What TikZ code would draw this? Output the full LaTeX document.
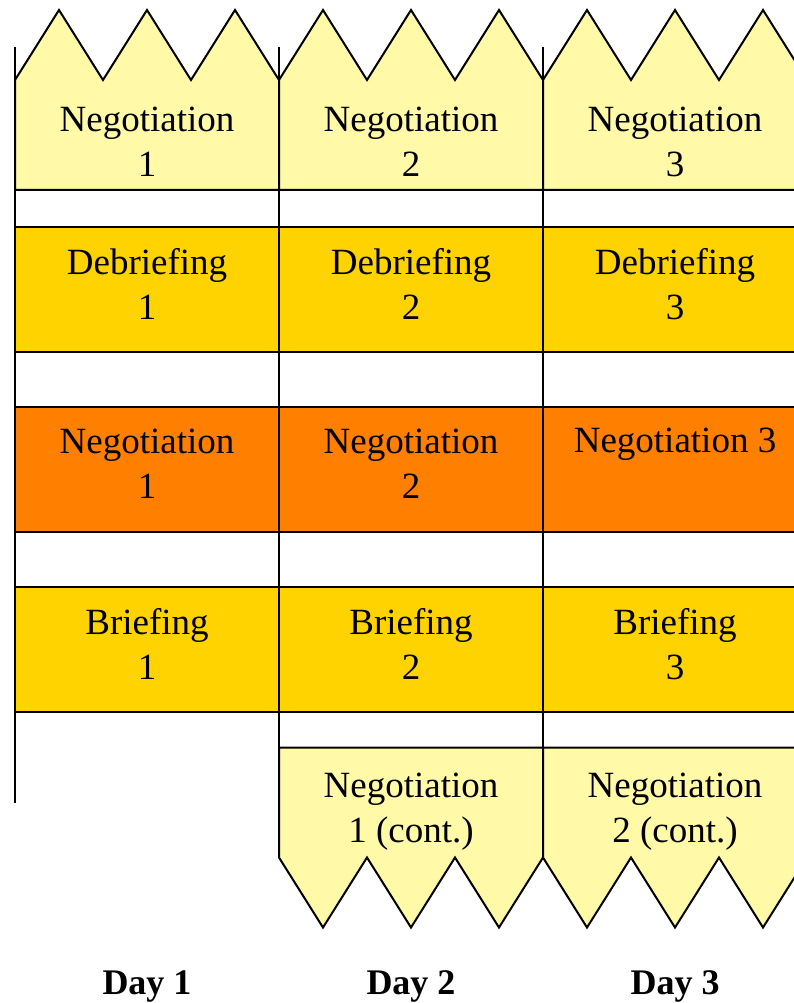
\documentclass[tikz,border=0pt]{standalone}
\usepackage{fontspec}
\setmainfont{Liberation Serif}
\usetikzlibrary{positioning,backgrounds}
\definecolor{paleyellow}{HTML}{FFF9A8}
\definecolor{gold}{HTML}{FFD300}
\definecolor{negorange}{HTML}{FF7F00}

\begin{document}
\begin{tikzpicture}[x=1pt, y=-1pt, node distance=264pt, line width=2pt, font=\fontsize{37}{45}\selectfont]
\tikzstyle{cell}=[rectangle, draw=black, minimum width=264pt, minimum height=125pt, align=center, inner sep=0pt, outer sep=0pt]
\tikzstyle{neg}=[cell, draw=none, minimum height=110pt, text height=83pt]
\tikzstyle{debrief}=[cell, fill=gold, text depth=12pt]
\tikzstyle{live}=[cell, fill=negorange, text depth=12pt]
\tikzstyle{brief}=[cell, fill=gold, text depth=12pt]
\tikzstyle{day}=[font=\fontsize{36}{43}\selectfont\bfseries]
\tikzstyle{outline}=[draw=black, fill=paleyellow, line width=2pt]
\useasboundingbox (0,0) rectangle (794,1003);
\clip (0,0) rectangle (794,1003);

\node[neg]      (N1) at (147,135)   {Negotiation\\1};
\node[neg]      (N2)[right of=N1]   {Negotiation\\2};
\node[neg]      (N3)[right of=N2]   {Negotiation\\3};

\node[debrief]  (D1) at (147,289.5) {Debriefing\\1};
\node[debrief]  (D2)[right of=D1]   {Debriefing\\2};
\node[debrief]  (D3)[right of=D2]   {Debriefing\\3};

\node[live]     (L1) at (147,469.5) {Negotiation\\1};
\node[live]     (L2)[right of=L1]   {Negotiation\\2};
\node[live, text depth=13.5pt] (L3)[right of=L2] {Negotiation 3\\\strut};

\node[brief]    (B1) at (147,649.5) {Briefing\\1};
\node[brief]    (B2)[right of=B1]   {Briefing\\2};
\node[brief]    (B3)[right of=B2]   {Briefing\\3};

\node[neg, text height=87pt] (C2) at (411,802.5) {Negotiation\\1 (cont.)};
\node[neg, text height=87pt] (C3)[right of=C2]   {Negotiation\\2 (cont.)};

\node[day]      (Y1) at (147,986)   {Day 1};
\node[day]      (Y2)[right of=Y1]   {Day 2};
\node[day]      (Y3)[right of=Y2]   {Day 3};

\begin{scope}[on background layer]
\foreach \n in {N1,N2,N3}
  \path[outline] (\n.south west) -- (\n.north west)
    -- ++(44,-70) -- ++(44,70) -- ++(44,-70) -- ++(44,70) -- ++(44,-70) -- ++(44,70)
    -- (\n.south east) -- cycle;
\foreach \n in {C2,C3}
  \path[outline] (\n.north west) -- (\n.south west)
    -- ++(44,70) -- ++(44,-70) -- ++(44,70) -- ++(44,-70) -- ++(44,70) -- ++(44,-70)
    -- (\n.north east) -- cycle;
\end{scope}

\coordinate (T1) at (15,47);
\coordinate (T2) at (279,47);
\coordinate (T3) at (543,47);
\coordinate (E1) at (15,803);
\draw (T1) -- (E1);
\draw (T2) -- (C2.north west);
\draw (T3) -- (C3.north west);
\end{tikzpicture}
\end{document}
